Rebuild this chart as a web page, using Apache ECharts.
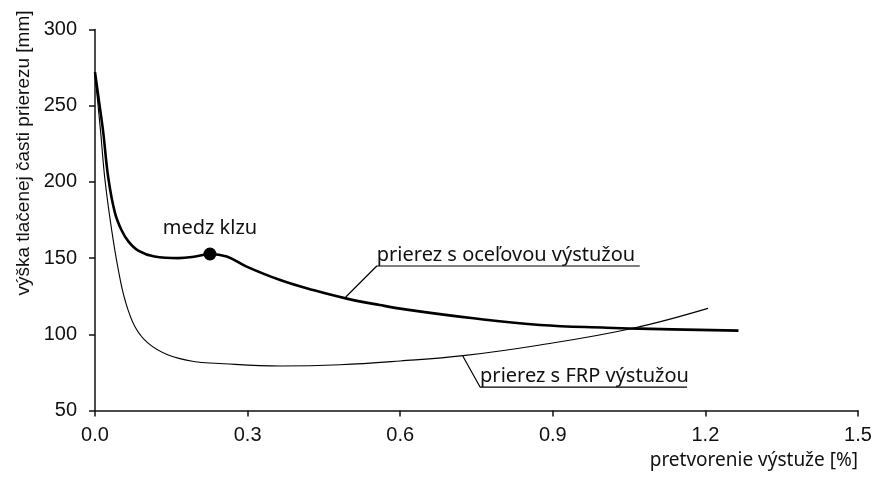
<!DOCTYPE html>
<html>
<head>
<meta charset="utf-8">
<script src="https://cdn.jsdelivr.net/npm/echarts@6/dist/echarts.min.js"></script>
<style>html,body{margin:0;padding:0;background:#fff}#c{width:877px;height:478px}</style>
</head>
<body>
<div id="c"></div>
<script>
// strain [%] -> height of compressed zone [mm]
const steelX = [0, 0.007, 0.016, 0.026, 0.039, 0.052, 0.066, 0.085, 0.117, 0.164, 0.197, 0.226, 0.259, 0.298, 0.364, 0.429, 0.495, 0.56, 0.613, 0.744, 0.875, 1.006, 1.071, 1.265];
const steelY = [272, 255, 233, 203, 180, 168.4, 160.8, 154.9, 151, 150, 151, 152.7, 151, 144.4, 135.6, 129, 123.4, 119.2, 116.2, 110.5, 106.1, 104.3, 103.7, 102.4];
const frpX = [0, 0.0046, 0.011, 0.0197, 0.0328, 0.0459, 0.059, 0.0786, 0.105, 0.144, 0.197, 0.236, 0.364, 0.482, 0.6, 0.724, 0.875, 1.058, 1.205];
const frpY = [271, 255, 233, 201, 168.4, 142.2, 122.5, 105, 94, 86.4, 82, 81, 79.2, 80, 82.5, 86, 93, 104, 117];
const yieldPoint = [0.226, 152.7];
const xTicks = [0, 0.3, 0.6, 0.9, 1.2, 1.5];
const yTicks = [50, 100, 150, 200, 250, 300];
const texts = {
  yieldLabel: 'medz klzu',
  steelLabel: 'prierez s oceľovou výstužou',
  frpLabel: 'prierez s FRP výstužou',
  xName: 'pretvorenie výstuže [%]',
  yName: 'výška tlačenej časti prierezu [mm]'
};
// annotation anchors in data units
const steelLeader = [[0.493, 124.5], [0.554, 144.8], [1.071, 144.8]];
const frpLeader = [[0.723, 85.8], [0.757, 65.4], [1.164, 65.4]];
const yieldLabelPos = [0.226, 169.8];

const zip = (a, b) => a.map((v, i) => [v, b[i]]);
const chart = echarts.init(document.getElementById('c'));
const annFont = '"Noto Sans", "Open Sans", sans-serif';
const axFont = '"Liberation Sans", Arial, sans-serif';
const txtColor = '#111';

chart.setOption({
  animation: false,
  grid: {left: 95, right: 19, top: 29.5, bottom: 67.5},
  xAxis: {
    type: 'value', min: 0, max: 1.5, interval: 0.3,
    axisLine: {lineStyle: {color: '#111', width: 1.5}},
    axisTick: {length: 6, lineStyle: {color: '#111', width: 1.5}},
    splitLine: {show: false},
    axisLabel: {color: txtColor, fontSize: 20, fontFamily: axFont, margin: 15,
      formatter: v => v.toFixed(1)},
    name: texts.xName, nameLocation: 'end', nameGap: 0,
    nameTextStyle: {color: txtColor, fontSize: 19, fontFamily: annFont,
      align: 'right', verticalAlign: 'top', padding: [41, 0, 0, 0]}
  },
  yAxis: {
    type: 'value', min: 50, max: 300, interval: 50,
    axisLine: {show: true, lineStyle: {color: '#111', width: 1.5}},
    axisTick: {show: true, length: 6, lineStyle: {color: '#111', width: 1.5}},
    splitLine: {show: false},
    axisLabel: {color: txtColor, fontSize: 20, fontFamily: axFont, margin: 18},
    name: texts.yName, nameLocation: 'end', nameGap: 19, nameRotate: 90,
    nameTextStyle: {color: txtColor, fontSize: 19, fontFamily: axFont,
      align: 'right', verticalAlign: 'bottom', padding: [0, 0, 62, 0]}
  },
  series: [
    {
      type: 'line', data: zip(steelX, steelY), smooth: 0.4, symbol: 'none',
      lineStyle: {color: '#000', width: 2.6}, z: 3
    },
    {
      type: 'line', data: zip(frpX, frpY), smooth: 0.4, symbol: 'none',
      lineStyle: {color: '#000', width: 1.1}, z: 2
    },
    {
      type: 'scatter', data: [yieldPoint], symbolSize: 13,
      itemStyle: {color: '#000', opacity: 1}, z: 4
    },
    {
      type: 'line', data: steelLeader, symbol: 'none', silent: true,
      lineStyle: {color: '#000', width: 1.2},
      markPoint: {
        symbol: 'rect', symbolSize: 0.01,
        data: [{coord: [steelLeader[1][0], steelLeader[1][1]],
          label: {show: true, formatter: texts.steelLabel, position: 'right', distance: 0,
            offset: [0, -11], color: txtColor, fontSize: 20, fontFamily: annFont}}]
      }
    },
    {
      type: 'line', data: frpLeader, symbol: 'none', silent: true,
      lineStyle: {color: '#000', width: 1.2},
      markPoint: {
        symbol: 'rect', symbolSize: 0.01,
        data: [{coord: [frpLeader[1][0], frpLeader[1][1]],
          label: {show: true, formatter: texts.frpLabel, position: 'right', distance: 0,
            offset: [0, -11], color: txtColor, fontSize: 20, fontFamily: annFont}}]
      }
    },
    {
      type: 'scatter', data: [yieldLabelPos], symbolSize: 0.01, silent: true,
      itemStyle: {opacity: 1},
      label: {show: true, formatter: texts.yieldLabel, position: 'inside', opacity: 1,
        color: txtColor, fontSize: 20, fontFamily: annFont}
    }
  ]
});
</script>
</body>
</html>
